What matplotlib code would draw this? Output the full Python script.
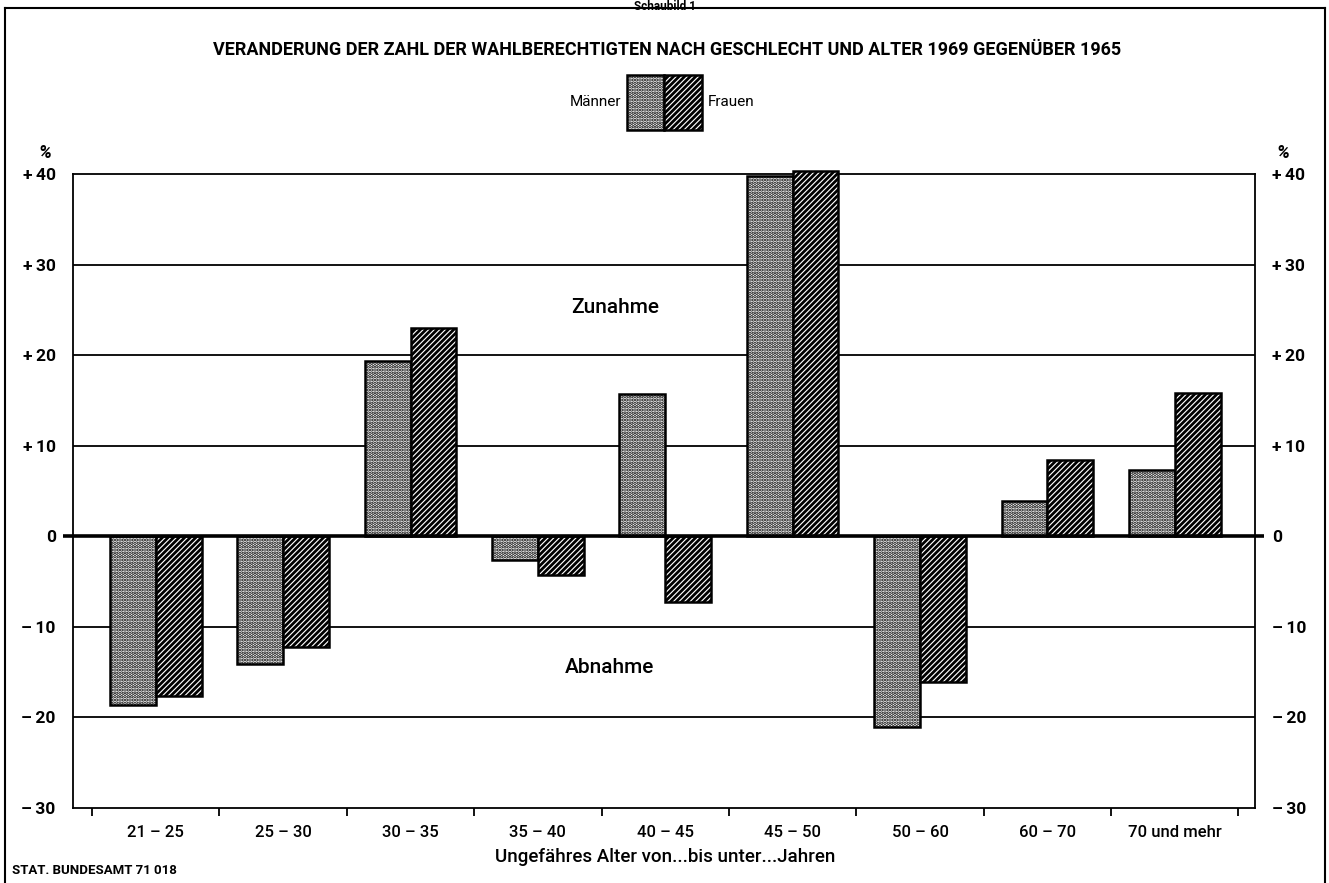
import matplotlib
matplotlib.use('Agg')
import matplotlib.pyplot as plt
from matplotlib.patches import Rectangle
from matplotlib.lines import Line2D
import numpy as np

categories = ['21 – 25', '25 – 30', '30 – 35', '35 – 40', '40 – 45',
              '45 – 50', '50 – 60', '60 – 70', '70 und mehr']
maenner = [-18.6, -14.1, 19.4, -2.6, 15.7, 39.8, -21.1, 3.9, 7.3]
frauen = [-17.6, -12.2, 23.0, -4.3, -7.3, 40.3, -16.1, 8.4, 15.8]
yticks = [-30, -20, -10, 0, 10, 20, 30, 40]
ytick_labels = ['–\u200930', '–\u200920', '–\u200910', '0',
                '+\u200910', '+\u200920', '+\u200930', '+\u200940']

plt.rcParams['font.family'] = ['Roboto', 'DejaVu Sans']
plt.rcParams['hatch.linewidth'] = 1.3
plt.rcParams['hatch.color'] = 'black'

W, H = 1329, 883
fig = plt.figure(figsize=(W / 100, H / 100), dpi=100)
ax = fig.add_axes([73 / W, 75 / H, 1182 / W, 634 / H])

x = np.arange(len(categories))
w = 0.36
HM = '.....'
HF = '//////'


def hatch_lw(patch, lw):
    if hasattr(patch, 'set_hatch_linewidth'):
        patch.set_hatch_linewidth(lw)


mb = ax.bar(x - w / 2, maenner, w, facecolor='white', edgecolor='black',
            hatch=HM, linewidth=1.8, zorder=3, clip_on=False)
fb = ax.bar(x + w / 2, frauen, w, facecolor='white', edgecolor='black',
            hatch=HF, linewidth=1.8, zorder=3, clip_on=False)
for p in mb:
    hatch_lw(p, 1.7)
for p in fb:
    hatch_lw(p, 2.0)

for v in [-20, -10, 10, 20, 30]:
    ax.axhline(v, color='black', lw=1.3, zorder=1)
xl, xr = -0.65, 8.63
ax.plot([xl - 10 / 127, xr + 9 / 127], [0, 0], color='black', lw=2.6, zorder=4,
        clip_on=False, solid_capstyle='butt')

ax.set_xlim(xl, xr)
ax.set_ylim(-30, 40)
for s in ax.spines.values():
    s.set_linewidth(1.3)

ax.set_xticks(x)
ax.set_xticklabels(categories, fontsize=12, fontweight='medium')
ax.set_xticks(np.arange(-0.5, 9.0, 1.0), minor=True)
ax.tick_params(axis='x', which='major', length=0, pad=12)
ax.tick_params(axis='x', which='minor', length=6, width=1.3, direction='out')
ax.set_yticks(yticks)
ax.set_yticklabels(ytick_labels, fontsize=12.5, fontweight='bold')
ax.tick_params(axis='y', left=False, right=False, labelleft=True,
               labelright=True, pad=9)

ax.text(3.61, 25.3, 'Zunahme', ha='center', va='center', fontsize=15,
        fontweight='medium')
ax.text(3.56, -14.5, 'Abnahme', ha='center', va='center', fontsize=15,
        fontweight='medium')

fig.text(665 / W, 1 - 857 / H, 'Ungefähres Alter von...bis unter...Jahren',
         ha='center', va='center', fontsize=13.5, fontweight='medium')
fig.text(667 / W, 1 - 50 / H,
         'VERANDERUNG DER ZAHL DER WAHLBERECHTIGTEN NACH GESCHLECHT UND ALTER 1969 GEGENÜBER 1965',
         ha='center', va='center', fontsize=13, fontweight='bold')
fig.text(665 / W, 1.0, 'Schaubild 1', ha='center', va='top',
         fontsize=8.5, fontweight='bold')
fig.text(12 / W, 1 - 870 / H, 'STAT. BUNDESAMT 71 018', ha='left',
         va='center', fontsize=9.5, fontweight='bold')

fig.text(45 / W, 1 - 153 / H, '%', ha='center', va='center', fontsize=13,
         fontweight='bold', style='italic')
fig.text(1283 / W, 1 - 153 / H, '%', ha='center', va='center', fontsize=13,
         fontweight='bold', style='italic')

# legend
ly0, ly1 = 1 - 130 / H, 1 - 75 / H
lm = Rectangle((627 / W, ly0), 37 / W, ly1 - ly0, transform=fig.transFigure,
               facecolor='white', edgecolor='black', hatch=HM, lw=1.8)
hatch_lw(lm, 1.7)
fig.add_artist(lm)
lf = Rectangle((664 / W, ly0), 38 / W, ly1 - ly0, transform=fig.transFigure,
               facecolor='white', edgecolor='black', hatch=HF, lw=1.8)
hatch_lw(lf, 2.0)
fig.add_artist(lf)
fig.text(621 / W, 1 - 102 / H, 'Männer', ha='right', va='center', fontsize=11)
fig.text(708 / W, 1 - 102 / H, 'Frauen', ha='left', va='center', fontsize=11)

# outer frame
fig.add_artist(Line2D([5 / W, 5 / W], [0, 1 - 8 / H], color='black', lw=1.5,
                      transform=fig.transFigure))
fig.add_artist(Line2D([1325 / W, 1325 / W], [0, 1 - 8 / H], color='black', lw=1.5,
                      transform=fig.transFigure))
fig.add_artist(Line2D([5 / W, 1325 / W], [1 - 8 / H, 1 - 8 / H], color='black', lw=1.5,
                      transform=fig.transFigure))

fig.savefig('out.png', dpi=100)
